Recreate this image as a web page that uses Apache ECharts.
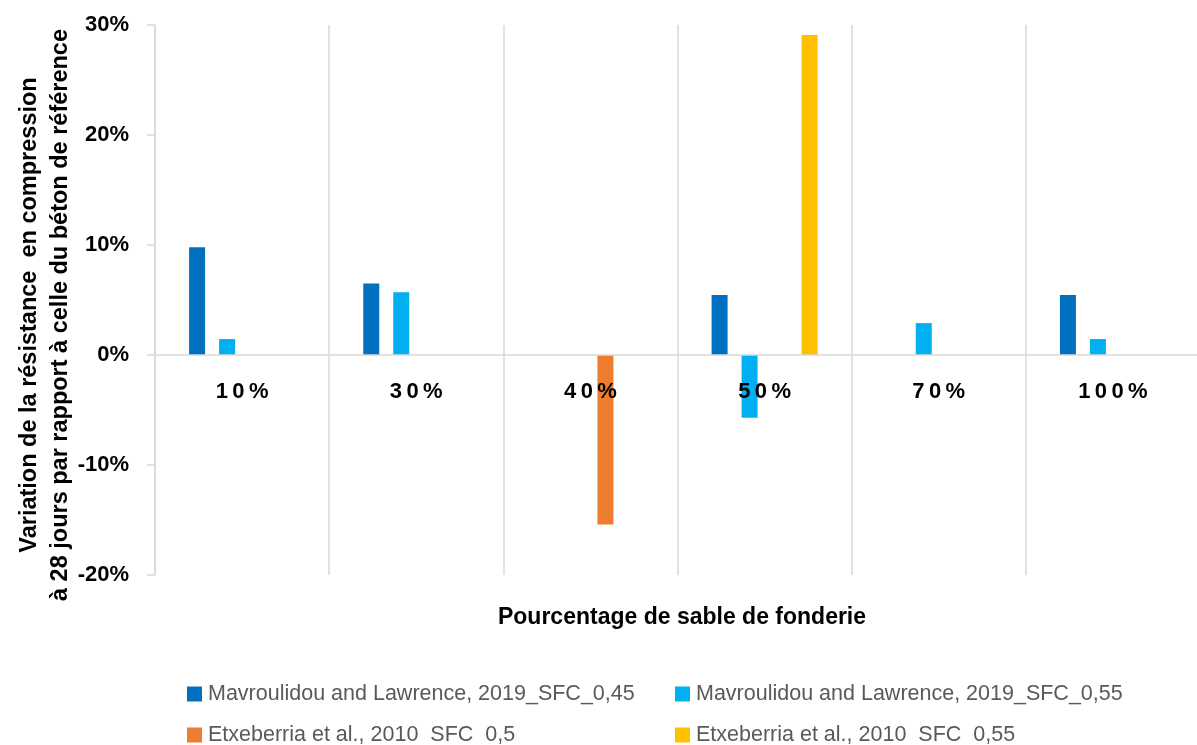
<!DOCTYPE html>
<html>
<head>
<meta charset="utf-8">
<script src="https://cdn.jsdelivr.net/npm/echarts@6/dist/echarts.min.js"></script>
<style>
  html, body { margin: 0; padding: 0; background: #fff; }
  #chart { width: 1197px; height: 745px; }
</style>
</head>
<body>
<div id="chart"></div>
<script>
const categories = ['10%', '30%', '40%', '50%', '70%', '100%'];
const seriesNames = [
  'Mavroulidou and Lawrence, 2019_SFC_0,45',
  'Mavroulidou and Lawrence, 2019_SFC_0,55',
  'Etxeberria et al., 2010  SFC  0,5',
  'Etxeberria et al., 2010  SFC  0,55'
];
const mav045 = [9.8, 6.5, '-', 5.45, '-', 5.45];
const mav055 = [1.45, 5.7, '-', -5.7, 2.9, 1.45];
const etx05 = ['-', '-', -15.4, '-', '-', '-'];
const etx055 = ['-', '-', '-', 29.1, '-', '-'];
const colors = ['#0070C0', '#00B0F0', '#ED7D31', '#FFC000'];

const font = 'Liberation Sans';
const gridColor = '#d9d9d9';

const chart = echarts.init(document.getElementById('chart'));

const legendAt = (name, left, top) => ({
  data: [name],
  left: left,
  top: top,
  padding: 0,
  icon: 'rect',
  itemWidth: 15,
  itemHeight: 15,
  itemGap: 6,
  selectedMode: false,
  textStyle: { fontFamily: font, fontSize: 21.5, color: '#595959', padding: [0, 0, 0, 1] }
});

const bar = (i, data) => ({
  name: seriesNames[i],
  type: 'bar',
  data: data,
  barWidth: 16,
  barGap: '87.5%',
  itemStyle: { color: colors[i] }
});

chart.setOption({
  animation: false,
  color: colors,
  grid: { left: 155, top: 25, height: 550, width: 1045, outerBoundsMode: 'none' },
  legend: [
    legendAt(seriesNames[0], 187, 683),
    legendAt(seriesNames[1], 675, 683),
    legendAt(seriesNames[2], 187, 724),
    legendAt(seriesNames[3], 675, 724)
  ],
  xAxis: {
    type: 'category',
    data: categories,
    z: 10,
    axisLine: { lineStyle: { color: gridColor, width: 1.5 } },
    axisTick: { show: false },
    splitLine: { show: true, lineStyle: { color: gridColor, width: 1.5 } },
    axisLabel: {
      margin: -194,
      fontFamily: font,
      fontSize: 22,
      fontWeight: 'bold',
      color: '#000',
      formatter: v => v.split('').join('\u2009')
    }
  },
  yAxis: {
    type: 'value',
    min: -20,
    max: 30,
    interval: 10,
    axisLine: { show: true, lineStyle: { color: gridColor, width: 1.5 } },
    axisTick: { show: true, length: 8, lineStyle: { color: gridColor, width: 1.5 } },
    splitLine: { show: false },
    axisLabel: {
      margin: 26,
      fontFamily: font,
      fontSize: 22,
      fontWeight: 'bold',
      color: '#000',
      formatter: '{value}%'
    }
  },
  graphic: [
    {
      type: 'text',
      x: 45,
      y: 315,
      rotation: Math.PI / 2,
      style: {
        text: 'Variation de la résistance  en compression\nà 28 jours par rapport à celle du béton de référence',
        fontFamily: font,
        fontSize: 23.5,
        fontWeight: 'bold',
        fill: '#000',
        align: 'center',
        verticalAlign: 'middle',
        lineHeight: 31
      }
    },
    {
      type: 'text',
      x: 682,
      y: 618,
      style: {
        text: 'Pourcentage de sable de fonderie',
        fontFamily: font,
        fontSize: 23,
        fontWeight: 'bold',
        fill: '#000',
        align: 'center',
        verticalAlign: 'middle'
      }
    }
  ],
  series: [
    bar(0, mav045),
    bar(1, mav055),
    bar(2, etx05),
    bar(3, etx055)
  ]
});
</script>
</body>
</html>
